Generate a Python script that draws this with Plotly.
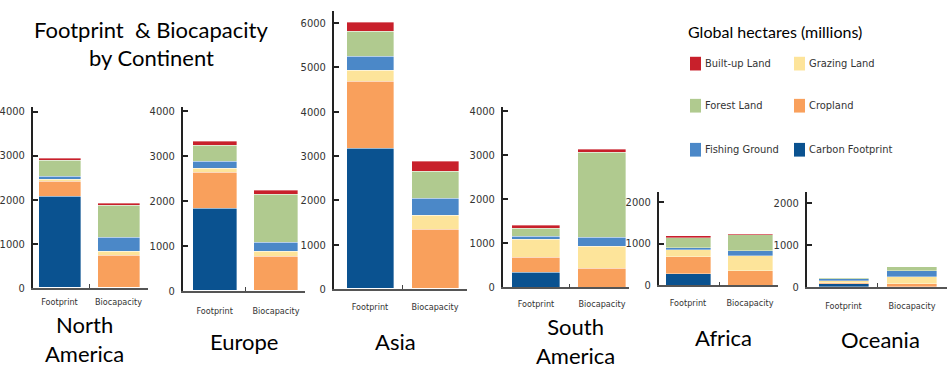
import plotly.graph_objects as go

# ---------------- data ----------------
categories = ["Footprint", "Biocapacity"]
continents = ["North America", "Europe", "Asia", "South America", "Africa", "Oceania"]

carbon_fp   = [2060, 1840, 3174, 341, 280, 75]
carbon_bio  = [0, 0, 0, 0, 0, 0]
cropland_fp = [355, 785, 1502, 333, 413, 15]
cropland_bio = [726, 749, 1333, 415, 342, 70]
grazing_fp  = [40, 88, 243, 407, 163, 65]
grazing_bio = [96, 131, 309, 504, 374, 180]
fishing_fp  = [65, 167, 317, 67, 39, 35]
fishing_bio = [311, 196, 390, 200, 109, 130]
forest_fp   = [370, 364, 559, 193, 233, 30]
forest_bio  = [741, 1069, 604, 1933, 373, 95]
builtup_fp  = [45, 87, 221, 52, 47, 5]
builtup_bio = [37, 88, 236, 67, 47, 8]

series_names = ["Carbon Footprint", "Cropland", "Grazing Land", "Fishing Ground", "Forest Land", "Built-up Land"]
series_fp = [carbon_fp, cropland_fp, grazing_fp, fishing_fp, forest_fp, builtup_fp]
series_bio = [carbon_bio, cropland_bio, grazing_bio, fishing_bio, forest_bio, builtup_bio]
colors = {
    "Carbon Footprint": "#0a5290",
    "Cropland": "#f9a05c",
    "Grazing Land": "#fde49a",
    "Fishing Ground": "#4b88c8",
    "Forest Land": "#b0ca8f",
    "Built-up Land": "#c8202b",
}

legend_title = "Global hectares (millions)"
legend_rows = [["Built-up Land", "Grazing Land"], ["Forest Land", "Cropland"], ["Fishing Ground", "Carbon Footprint"]]

# ---------------- layout geometry (pixels) ----------------
W, H = 950, 374
panels = [
    dict(ax=33, end=148, c0=59.5, c1=118.5, bw=42, base=293, top=108, ppk=45.0, lab=5),
    dict(ax=183, end=305, c0=214.7, c1=276, bw=44, base=296, top=108, ppk=45.8, lab=11),
    dict(ax=334, end=467, c0=370, c1=435, bw=47, base=294.3, top=10, ppk=45.3, lab=8),
    dict(ax=503, end=629, c0=536, c1=602, bw=48, base=292.7, top=108, ppk=45.0, lab=7),
    dict(ax=659, end=778, c0=688, c1=750, bw=45, base=290.7, top=195, ppk=42.8, lab=8),
    dict(ax=807, end=947, c0=843.5, c1=912, bw=50, base=292.3, top=195, ppk=42.8, lab=9),
]
title_pos = [(84, 345.5), (244, 348), (395, 348), (575, 347), (723, 344), (880, 346)]

NARROW = "Liberation Sans Narrow, Arial Narrow, DejaVu Sans Condensed, sans-serif"
TITLEF = "Lato, Open Sans, sans-serif"

fig = go.Figure()
layout = {}
for i, p in enumerate(panels):
    n = i + 1
    xname = "x" if n == 1 else f"x{n}"
    yname = "y" if n == 1 else f"y{n}"
    unit = p["c1"] - p["c0"]
    for name, fp, bio in zip(series_names, series_fp, series_bio):
        fig.add_trace(go.Bar(
            x=[0, 1], y=[fp[i], bio[i]], name=name,
            xaxis=xname, yaxis=yname, showlegend=False,
            width=p["bw"] / unit,
            marker=dict(color=colors[name], line=dict(width=0.6, color="rgba(255,255,255,0.6)")),
            hovertemplate="%{y}<extra>" + name + "</extra>",
        ))
    xr = [-(p["c0"] - p["ax"]) / unit, 1 + (p["end"] - p["c1"]) / unit]
    ymax = (p["base"] - p["top"]) / p["ppk"] * 1000
    xkey = "xaxis" if n == 1 else f"xaxis{n}"
    ykey = "yaxis" if n == 1 else f"yaxis{n}"
    layout[xkey] = dict(
        domain=[p["ax"] / W, p["end"] / W], range=xr, anchor=yname,
        tickmode="array", tickvals=[0, 1], ticktext=categories, ticks="",
        showline=True, linecolor="#555", linewidth=1.5, showgrid=False, zeroline=False,
        tickfont=dict(family=NARROW, size=9, color="#333"), ticklabelstandoff=p["lab"],
        minor=dict(tickmode="array", tickvals=[0.5], ticks="inside", ticklen=4, tickcolor="#444", tickwidth=1),
        fixedrange=True,
    )
    layout[ykey] = dict(
        domain=[1 - p["base"] / H, 1 - p["top"] / H], range=[0, ymax], anchor=xname,
        tick0=0, dtick=1000, ticks="inside", ticklen=5, tickwidth=2, tickcolor="#222",
        showline=True, linewidth=2, linecolor="#222", showgrid=False, zeroline=False,
        tickfont=dict(family=NARROW, size=11, color="#333"), ticklabelstandoff=4,
        fixedrange=True,
    )

annotations = []
shapes = []
# main title
annotations.append(dict(text="Footprint  & Biocapacity", x=151 / W, y=1 - 29 / H, xref="paper", yref="paper",
                        showarrow=False, xanchor="center", yanchor="middle",
                        font=dict(family=TITLEF, size=22, color="#000")))
annotations.append(dict(text="by Continent", x=151 / W, y=1 - 58 / H, xref="paper", yref="paper",
                        showarrow=False, xanchor="center", yanchor="middle",
                        font=dict(family=TITLEF, size=22, color="#000")))
# continent titles
for cont, (cx, cy) in zip(continents, title_pos):
    txt = cont.replace(" ", "<br>")
    annotations.append(dict(text=txt, x=cx / W, y=1 - cy / H, xref="paper", yref="paper",
                            showarrow=False, xanchor="center", yanchor="middle", align="center",
                            font=dict(family=TITLEF, size=22, color="#000")))
# legend
annotations.append(dict(text=legend_title, x=686 / W, y=1 - 31 / H, xref="paper", yref="paper",
                        showarrow=False, xanchor="left", yanchor="middle",
                        font=dict(family=TITLEF, size=16, color="#000")))
col_x = [690, 794]
row_y = [57, 100, 145]
for r, row in enumerate(legend_rows):
    for c, name in enumerate(row):
        x0 = col_x[c]
        y0 = row_y[r]
        shapes.append(dict(type="rect", xref="paper", yref="paper",
                           x0=x0 / W, x1=(x0 + 11) / W, y0=1 - (y0 + 14) / H, y1=1 - y0 / H,
                           fillcolor=colors[name], line=dict(width=0)))
        annotations.append(dict(text=name, x=(x0 + 13) / W, y=1 - (y0 + 7) / H, xref="paper", yref="paper",
                                showarrow=False, xanchor="left", yanchor="middle",
                                font=dict(family=NARROW, size=11, color="#333")))

fig.update_layout(
    width=W, height=H, autosize=False, margin=dict(l=0, r=0, t=0, b=0),
    paper_bgcolor="white", plot_bgcolor="rgba(0,0,0,0)",
    barmode="stack", bargap=0, showlegend=False,
    annotations=annotations, shapes=shapes,
    **layout,
)
fig.write_html("out.html", config={"displayModeBar": False, "responsive": False},
               post_script="document.body.style.margin='0px';document.body.style.overflow='hidden';")
